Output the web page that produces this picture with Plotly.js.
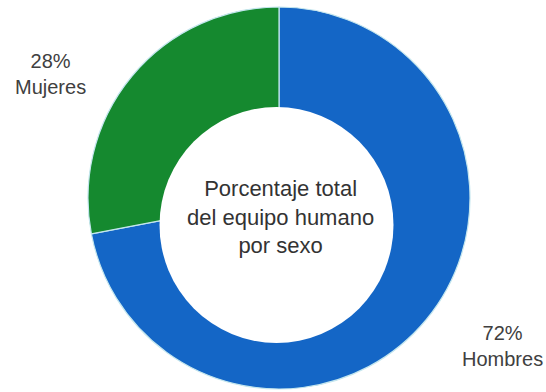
<!DOCTYPE html>
<html>
<head>
<meta charset="utf-8">
<script src="https://cdn.plot.ly/plotly-3.0.1.min.js"></script>
<style>html,body{margin:0;padding:0;background:#fff;}#chart{width:546px;height:392px;}</style>
</head>
<body>
<div id="chart"></div>
<script>
const labels = ["Hombres", "Mujeres"];
const values = [72, 28];
const colors = ["#1466c6", "#15892f"];
const centerTitle = ["Porcentaje total", "del equipo humano", "por sexo"];

const W = 546, H = 392;
const px = x => x / W;
const py = y => 1 - y / H;

const data = [{
  type: "pie",
  labels: labels,
  values: values,
  sort: false,
  direction: "clockwise",
  rotation: 0,
  textinfo: "none",
  hoverinfo: "label+percent",
  marker: { colors: colors, line: { color: "#c4e6ee", width: 1.2 } },
  domain: { x: [px(88), px(470)], y: [py(389), py(7)] },
  showlegend: false
}];

const labelFont = { family: "Liberation Sans, Arial, sans-serif", size: 20, color: "#404040" };

const layout = {
  width: W, height: H,
  margin: { l: 0, r: 0, t: 0, b: 0 },
  paper_bgcolor: "#ffffff",
  showlegend: false,
  shapes: [{
    type: "circle", xref: "paper", yref: "paper", layer: "above",
    x0: px(159.5), x1: px(393.5), y0: py(343), y1: py(107),
    fillcolor: "#ffffff", line: { width: 0 }
  }],
  annotations: [
    {
      xref: "paper", yref: "paper", x: px(280), y: py(217),
      xanchor: "center", yanchor: "middle", showarrow: false,
      text: centerTitle.join("<br>"),
      font: { family: "Liberation Sans, Arial, sans-serif", size: 22, color: "#333333" }
    },
    {
      xref: "paper", yref: "paper", x: px(50), y: py(74),
      xanchor: "center", yanchor: "middle", showarrow: false,
      text: values[1] + "%<br>" + labels[1], font: labelFont
    },
    {
      xref: "paper", yref: "paper", x: px(503), y: py(346),
      xanchor: "center", yanchor: "middle", showarrow: false,
      text: values[0] + "%<br>" + labels[0], font: labelFont
    }
  ]
};

Plotly.newPlot("chart", data, layout, { displayModeBar: false, staticPlot: true });
</script>
</body>
</html>
